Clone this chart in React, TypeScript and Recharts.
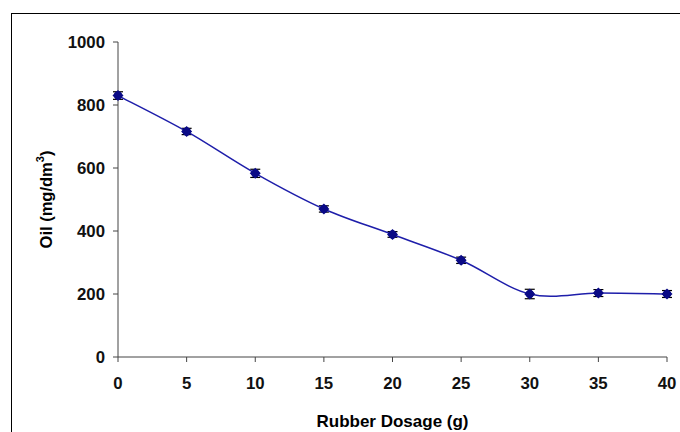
import { ErrorBar, Label, Line, LineChart, XAxis, YAxis } from "recharts"

const dosage = [0, 5, 10, 15, 20, 25, 30, 35, 40]
const oil = [830, 716, 583, 470, 389, 307, 200, 203, 200]
const oilError = [12, 10, 13, 10, 9, 10, 15, 11, 11]
const xTicks = [0, 5, 10, 15, 20, 25, 30, 35, 40]
const yTicks = [0, 200, 400, 600, 800, 1000]

const data = dosage.map((d, i) => ({ dosage: d, oil: oil[i], err: oilError[i] }))

// Excel-style smoothed line (Catmull-Rom, control points at +-1/6)
function excelSmooth(context: any) {
  let pts: number[][] = []
  return {
    areaStart() {},
    areaEnd() {},
    lineStart() {
      pts = []
    },
    point(x: number, y: number) {
      pts.push([+x, +y])
    },
    lineEnd() {
      if (!pts.length) return
      context.moveTo(pts[0][0], pts[0][1])
      for (let i = 0; i < pts.length - 1; i++) {
        const p0 = pts[i - 1] || pts[i]
        const p1 = pts[i]
        const p2 = pts[i + 1]
        const p3 = pts[i + 2] || p2
        context.bezierCurveTo(
          p1[0] + (p2[0] - p0[0]) / 6,
          p1[1] + (p2[1] - p0[1]) / 6,
          p2[0] - (p3[0] - p1[0]) / 6,
          p2[1] - (p3[1] - p1[1]) / 6,
          p2[0],
          p2[1]
        )
      }
    },
  }
}

const Marker = (props: any) => {
  const { cx, cy } = props
  if (cx == null || cy == null) return null
  return (
    <g>
      <circle cx={cx} cy={cy} r={4.2} fill="#0a0a86" />
      <path
        d={`M${cx},${cy - 5.5}L${cx + 5.5},${cy}L${cx},${cy + 5.5}L${cx - 5.5},${cy}Z`}
        fill="#0a0a86"
      />
    </g>
  )
}

const YTitle = (props: any) => {
  const vb = props.viewBox || { x: 0, y: 0, width: 0, height: 0 }
  const cx = vb.x + 46
  const cy = vb.y + vb.height / 2
  return (
    <text
      x={cx}
      y={cy}
      transform={`rotate(-90 ${cx} ${cy})`}
      textAnchor="middle"
      dominantBaseline="central"
      fontSize={16.5}
      fontWeight="bold"
      fill="#000"
    >
      Oil (mg/dm
      <tspan dy={-6} fontSize={11}>3</tspan>
      <tspan dy={6}>)</tspan>
    </text>
  )
}

const tickStyle = { fontSize: 16.8, fontWeight: "bold", fill: "#111" }

export default function App() {
  return (
    <div
      style={{
        position: "absolute",
        left: 0,
        top: 0,
        width: 680,
        height: 432,
        background: "#fff",
        fontFamily: "'Liberation Sans', Arial, sans-serif",
      }}
    >
      <div
        style={{
          position: "absolute",
          left: 11,
          top: 13,
          width: 680,
          height: 440,
          borderLeft: "1.5px solid #000",
          borderTop: "1.5px solid #000",
        }}
      />
      <LineChart
        width={680}
        height={432}
        data={data}
        margin={{ top: 42, right: 13, bottom: 0, left: 0 }}
        style={{ position: "absolute", left: 0, top: 0 }}
      >
        <XAxis
          dataKey="dosage"
          type="number"
          domain={[0, 40]}
          ticks={xTicks}
          height={75}
          tickSize={5}
          tickMargin={15}
          stroke="#444"
          tick={tickStyle}
          interval={0}
        >
          <Label
            value="Rubber Dosage (g)"
            position="insideBottom"
            offset={5}
            style={{ fontSize: 17, fontWeight: "bold", fill: "#000" }}
          />
        </XAxis>
        <YAxis
          type="number"
          domain={[0, 1000]}
          ticks={yTicks}
          width={118}
          tickSize={5}
          tickMargin={8}
          stroke="#444"
          tick={tickStyle}
          interval={0}
          label={<YTitle />}
        />
        <Line
          dataKey="oil"
          type={excelSmooth as any}
          stroke="#1e1eaa"
          strokeWidth={1.5}
          dot={<Marker />}
          activeDot={false}
          isAnimationActive={false}
        >
          <ErrorBar dataKey="err" direction="y" width={5} stroke="#000" strokeWidth={1.2} />
        </Line>
      </LineChart>
    </div>
  )
}
